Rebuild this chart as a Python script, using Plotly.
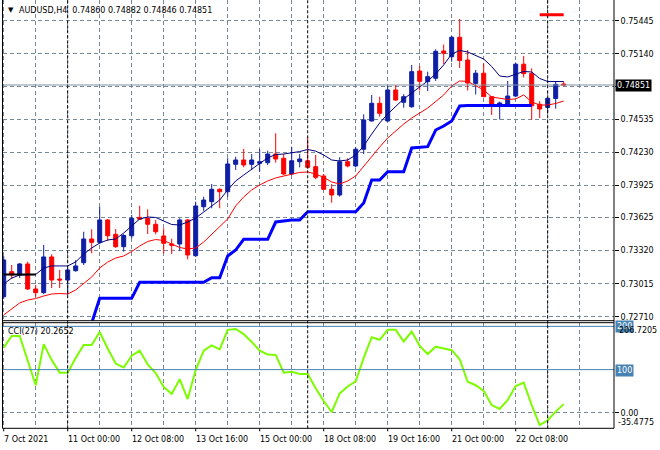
import plotly.graph_objects as go

# ---------------- data ----------------
# H4 bars, first visible bar = 7 Oct 2021 16:00, bar 8 = 11 Oct 00:00
opens = [0.72895, 0.73126, 0.73095, 0.73197, 0.72966, 0.72932, 0.73262, 0.73058,
         0.73049, 0.73135, 0.73209, 0.73428, 0.73397, 0.73604, 0.73471, 0.73357,
         0.73458, 0.73628, 0.73619, 0.73564, 0.73456, 0.73382, 0.73382, 0.73604,
         0.73274, 0.73726, 0.73773, 0.73887, 0.73865, 0.74118, 0.74158, 0.74118,
         0.74127, 0.74133, 0.74213, 0.74174, 0.74029, 0.74142, 0.74151, 0.74096,
         0.74010, 0.73887, 0.73835, 0.74142, 0.74103, 0.74257, 0.74518, 0.74682,
         0.74518, 0.74805, 0.74691, 0.74650, 0.74980, 0.74882, 0.74913, 0.75165,
         0.75112, 0.75292, 0.75082, 0.74866, 0.74960, 0.74743, 0.74659, 0.74675,
         0.74749, 0.75043, 0.74958, 0.74673, 0.74644, 0.74726, 0.74860]
highs = [0.73271, 0.73188, 0.73206, 0.73218, 0.73003, 0.73373, 0.73287, 0.73142,
         0.73160, 0.73234, 0.73495, 0.73518, 0.73726, 0.73613, 0.73520, 0.73474,
         0.73650, 0.73735, 0.73702, 0.73604, 0.73527, 0.73431, 0.73619, 0.73613,
         0.73773, 0.73819, 0.73936, 0.73896, 0.74174, 0.74188, 0.74260, 0.74213,
         0.74257, 0.74244, 0.74405, 0.74213, 0.74281, 0.74213, 0.74368, 0.74204,
         0.74029, 0.73936, 0.74183, 0.74174, 0.74278, 0.74580, 0.74759, 0.74743,
         0.74842, 0.74851, 0.74766, 0.75036, 0.75026, 0.74974, 0.75181, 0.75225,
         0.75304, 0.75461, 0.75174, 0.74990, 0.75051, 0.74749, 0.74698, 0.74888,
         0.75059, 0.75119, 0.75005, 0.74703, 0.74735, 0.74883, 0.74882]
lows = [0.72874, 0.73058, 0.73068, 0.72957, 0.72895, 0.72920, 0.72975, 0.72975,
        0.72911, 0.73126, 0.73188, 0.73296, 0.73382, 0.73409, 0.73345, 0.73312,
        0.73434, 0.73604, 0.73474, 0.73471, 0.73296, 0.73289, 0.73320, 0.73240,
        0.73262, 0.73689, 0.73712, 0.73712, 0.73819, 0.74066, 0.74090, 0.74066,
        0.74050, 0.74112, 0.74133, 0.74019, 0.74019, 0.74090, 0.74075, 0.73980,
        0.73881, 0.73763, 0.73819, 0.74090, 0.74090, 0.74213, 0.74514, 0.74558,
        0.74514, 0.74703, 0.74641, 0.74641, 0.74800, 0.74795, 0.74888, 0.75045,
        0.75066, 0.75008, 0.74800, 0.74763, 0.74740, 0.74574, 0.74532, 0.74666,
        0.74740, 0.74920, 0.74530, 0.74546, 0.74599, 0.74632, 0.74846]
closes = [0.73234, 0.73095, 0.73197, 0.72966, 0.72932, 0.73262, 0.73049, 0.73049,
          0.73142, 0.73179, 0.73428, 0.73397, 0.73604, 0.73458, 0.73357, 0.73460,
          0.73619, 0.73610, 0.73564, 0.73495, 0.73388, 0.73370, 0.73604, 0.73280,
          0.73733, 0.73788, 0.73887, 0.73865, 0.74121, 0.74158, 0.74112, 0.74158,
          0.74142, 0.74213, 0.74167, 0.74029, 0.74151, 0.74167, 0.74090, 0.73998,
          0.73887, 0.73835, 0.74142, 0.74103, 0.74257, 0.74528, 0.74682, 0.74589,
          0.74805, 0.74712, 0.74743, 0.74974, 0.74885, 0.74928, 0.75162, 0.75144,
          0.75292, 0.75077, 0.74869, 0.74960, 0.74743, 0.74663, 0.74685, 0.74749,
          0.75043, 0.74956, 0.74659, 0.74629, 0.74728, 0.74857, 0.74851]

ma_fast = [0.73012, 0.73067, 0.73095, 0.73100, 0.73100, 0.73160, 0.73179, 0.73179,
           0.73179, 0.73216, 0.73289, 0.73345, 0.73391, 0.73419, 0.73428, 0.73483,
           0.73548, 0.73613, 0.73631, 0.73627, 0.73594, 0.73562, 0.73557, 0.73585,
           0.73622, 0.73677, 0.73733, 0.73788, 0.73881, 0.73964, 0.74019, 0.74075,
           0.74126, 0.74177, 0.74209, 0.74213, 0.74222, 0.74236, 0.74255, 0.74240,
           0.74204, 0.74158, 0.74149, 0.74158, 0.74204, 0.74287, 0.74398, 0.74500,
           0.74583, 0.74657, 0.74722, 0.74777, 0.74833, 0.74888, 0.74953, 0.75036,
           0.75137, 0.75170, 0.75156, 0.75124, 0.75091, 0.75022, 0.74934, 0.74925,
           0.74953, 0.74976, 0.74971, 0.74911, 0.74883, 0.74883, 0.74883]
ma_slow = [0.72726, 0.72781, 0.72837, 0.72864, 0.72878, 0.72901, 0.72920, 0.72924,
           0.72920, 0.72957, 0.73021, 0.73077, 0.73160, 0.73215, 0.73252, 0.73271,
           0.73312, 0.73363, 0.73405, 0.73423, 0.73414, 0.73382, 0.73349, 0.73336,
           0.73345, 0.73400, 0.73474, 0.73539, 0.73613, 0.73733, 0.73816, 0.73881,
           0.73927, 0.73964, 0.73992, 0.74010, 0.74029, 0.74043, 0.74047, 0.74029,
           0.73997, 0.73955, 0.73936, 0.73964, 0.74010, 0.74102, 0.74195, 0.74278,
           0.74361, 0.74426, 0.74490, 0.74546, 0.74592, 0.74638, 0.74698, 0.74759,
           0.74842, 0.74888, 0.74884, 0.74847, 0.74805, 0.74740, 0.74726, 0.74717,
           0.74722, 0.74759, 0.74694, 0.74666, 0.74666, 0.74680, 0.74703]
trail_stop = [None, None, None, None, None, None, None, None, None, None, None,
              0.72652, 0.72880, 0.72880, 0.72880, 0.72880, 0.72880,
              0.73028, 0.73028, 0.73028, 0.73028, 0.73028, 0.73028, 0.73028, 0.73028, 0.73028,
              0.73070, 0.73070, 0.73271, 0.73326, 0.73425, 0.73425, 0.73425, 0.73425,
              0.73585, 0.73594, 0.73604, 0.73604,
              0.73680, 0.73680, 0.73680, 0.73680, 0.73680, 0.73680, 0.73680,
              0.73760, 0.73973, 0.73973, 0.74050, 0.74050, 0.74050,
              0.74269, 0.74278, 0.74281, 0.74435, 0.74472, 0.74518, 0.74657,
              0.74662, 0.74662, 0.74662, 0.74662, 0.74662, 0.74662, 0.74662, 0.74662, 0.74662,
              None, None, None, None]
top_marker = [None] * 67 + [0.75500, 0.75500, 0.75500, 0.75500]
start_marker = [0.73100, 0.73100, 0.73100, 0.73100, 0.73100] + [None] * 66

cci = [151, 178, 178, 120, 64, 159, 122, 93, 93, 127, 157, 157, 187, 149, 114, 105,
       132, 144, 112, 92, 60, 44, 78, 32, 99, 144, 156, 147, 192, 194, 182, 164,
       144, 135, 134, 93, 95, 90, 90, 57, 27.5, 2, 45, 61, 73, 127, 175, 169,
       192, 192, 165, 188, 155, 136, 153, 149, 145, 124, 72, 64, 51, 18, 9, 30,
       62, 70, 18, -28, -17, 3, 20.2652]
cci_levels = [100, 200]
cci_max_label = "206.7205"
cci_min_label = "-35.4775"

price_ticks = [0.75445, 0.75140, 0.74840, 0.74535, 0.74230, 0.73925,
               0.73625, 0.73320, 0.73015, 0.72710]
price_tick_text = ["0.75445", "0.75140", "", "0.74535", "0.74230", "0.73925",
                   "0.73625", "0.73320", "0.73015", "0.72710"]

time_label_bars = [0, 8, 16, 24, 32, 40, 48, 56, 64]
time_labels = ["7 Oct 2021", "11 Oct 00:00", "12 Oct 08:00", "13 Oct 16:00",
               "15 Oct 00:00", "18 Oct 08:00", "19 Oct 16:00", "21 Oct 00:00",
               "22 Oct 08:00"]
grid_bars = list(range(0, 76, 4))
week_separators = [8, 38, 68]

x = list(range(len(opens)))

# ---------------- layout geometry (pixels) ----------------
W, H = 660, 450
LEFT, RIGHT = 2.5, 614.0
MAIN_TOP, MAIN_BOT = 0.0, 320.7
CCI_TOP, CCI_BOT = 322.7, 428.3


def fx(px):
    return px / W


def fy(py):
    return 1 - py / H


FONT = "DejaVu Sans"
FS = 8
BULL = "#0F1FA5"
BEAR = "#FF0000"
GRID = "#778899"
LEVEL = "#4682B4"

fig = go.Figure()

fig.add_trace(go.Candlestick(
    x=x, open=opens, high=highs, low=lows, close=closes,
    increasing=dict(line=dict(color=BULL, width=1), fillcolor=BULL),
    decreasing=dict(line=dict(color=BEAR, width=1), fillcolor=BEAR),
    whiskerwidth=0, showlegend=False, hoverinfo="skip",
    xaxis="x", yaxis="y"))

fig.add_trace(go.Scatter(x=x, y=trail_stop, mode="lines",
                         line=dict(color="#0000FF", width=3),
                         showlegend=False, hoverinfo="skip", xaxis="x", yaxis="y"))
fig.add_trace(go.Scatter(x=x, y=ma_slow, mode="lines",
                         line=dict(color="#FF0000", width=1),
                         showlegend=False, hoverinfo="skip", xaxis="x", yaxis="y"))
fig.add_trace(go.Scatter(x=x, y=ma_fast, mode="lines",
                         line=dict(color="#000080", width=1),
                         showlegend=False, hoverinfo="skip", xaxis="x", yaxis="y"))
fig.add_trace(go.Scatter(x=x, y=start_marker, mode="lines",
                         line=dict(color="#000000", width=2),
                         showlegend=False, hoverinfo="skip", xaxis="x", yaxis="y"))
fig.add_trace(go.Scatter(x=x, y=top_marker, mode="lines",
                         line=dict(color="#FF0000", width=3),
                         showlegend=False, hoverinfo="skip", xaxis="x", yaxis="y"))

fig.add_trace(go.Scatter(x=x, y=cci, mode="lines",
                         line=dict(color="#7CFC00", width=2),
                         showlegend=False, hoverinfo="skip", xaxis="x2", yaxis="y2"))

xrange = [(LEFT - 3.7) / 8, (RIGHT - 3.7) / 8]
p_per_px = (price_ticks[0] - price_ticks[-1]) / (316.7 - 20.7)
y_top = price_ticks[0] + (20.7 - MAIN_TOP) * p_per_px
y_bot = price_ticks[-1] - (MAIN_BOT - 316.7) * p_per_px
cci_per_px = 1 / 0.4327
cci_top = (412.9 - CCI_TOP) * cci_per_px
cci_bot = -(CCI_BOT - 412.9) * cci_per_px

gridstyle = dict(showgrid=True, gridcolor=GRID, gridwidth=1, griddash="4px,3px")

fig.update_layout(
    width=W, height=H, margin=dict(l=0, r=0, t=0, b=0),
    paper_bgcolor="white", plot_bgcolor="white",
    boxgap=0.5, boxgroupgap=0,
    font=dict(family=FONT, size=FS, color="black"),
    xaxis=dict(domain=[fx(LEFT), fx(RIGHT)], range=xrange, anchor="y",
               tickmode="array", tickvals=grid_bars, showticklabels=False,
               ticks="", zeroline=False, showline=False,
               rangeslider=dict(visible=False), **gridstyle),
    xaxis2=dict(domain=[fx(LEFT), fx(RIGHT)], range=xrange, anchor="y2",
                matches="x", tickmode="array", tickvals=grid_bars,
                showticklabels=False, ticks="", zeroline=False, showline=False,
                **gridstyle),
    yaxis=dict(domain=[fy(MAIN_BOT), fy(MAIN_TOP)], range=[y_bot, y_top],
               side="right", anchor="x", tickmode="array", tickvals=price_ticks,
               ticktext=price_tick_text, ticks="outside", ticklen=4,
               tickcolor="black", tickfont=dict(family=FONT, size=FS, color="black"),
               zeroline=False, showline=False, **gridstyle),
    yaxis2=dict(domain=[fy(CCI_BOT), fy(CCI_TOP)], range=[cci_bot, cci_top],
                side="right", anchor="x2", tickmode="array", tickvals=[0],
                ticktext=["0.00"], ticks="outside", ticklen=4, tickcolor="black",
                tickfont=dict(family=FONT, size=FS, color="black"),
                zeroline=False, showline=False, **gridstyle),
)

shapes = []
# CCI levels
for lv in cci_levels:
    shapes.append(dict(type="line", xref="paper", yref="y2", x0=fx(LEFT), x1=fx(RIGHT),
                       y0=lv, y1=lv, line=dict(color=LEVEL, width=1)))
# bid line
shapes.append(dict(type="line", xref="paper", yref="y", x0=fx(LEFT), x1=fx(RIGHT),
                   y0=closes[-1], y1=closes[-1], line=dict(color="#8090A0", width=1)))
# weekly separators
for b in week_separators:
    shapes.append(dict(type="line", xref="x", yref="paper", x0=b, x1=b,
                       y0=fy(CCI_BOT), y1=fy(MAIN_TOP),
                       line=dict(color="black", width=1, dash="3px,2px")))
# pane borders
for yy in [MAIN_BOT, CCI_TOP, CCI_BOT]:
    shapes.append(dict(type="line", xref="paper", yref="paper", x0=fx(LEFT), x1=fx(RIGHT),
                       y0=fy(yy), y1=fy(yy), line=dict(color="black", width=1)))
for xx in [LEFT, RIGHT]:
    shapes.append(dict(type="line", xref="paper", yref="paper", x0=fx(xx), x1=fx(xx),
                       y0=fy(CCI_BOT), y1=fy(MAIN_TOP), line=dict(color="black", width=1)))
# small time ticks under CCI pane
for b in time_label_bars:
    shapes.append(dict(type="line", xref="x2", yref="paper", x0=b, x1=b,
                       y0=fy(CCI_BOT), y1=fy(CCI_BOT + 3), line=dict(color="black", width=1)))
fig.update_layout(shapes=shapes)

ann = []


def text(px, py, s, color="black", bg=None, anchor="left", size=FS):
    d = dict(xref="paper", yref="paper", x=fx(px), y=fy(py), text=s, showarrow=False,
             xanchor=anchor, yanchor="middle",
             font=dict(family=FONT, size=size, color=color), borderpad=1)
    if bg:
        d["bgcolor"] = bg
    ann.append(d)


text(6, 10.5, "▼", size=7)
text(17, 10.5, "AUDUSD,H4  %.5f %.5f %.5f %.5f" % (opens[-1], highs[-1], lows[-1], closes[-1]))
text(5.5, 331, "CCI(27) %.4f" % cci[-1])
text(615, 85.3, "%.5f" % closes[-1], color="white", bg="black")
text(615, 326.5, "%d" % cci_levels[1], color="white", bg=LEVEL)
text(617, 330.5, cci_max_label)
text(615, 370.7, "%d" % cci_levels[0], color="white", bg=LEVEL)
text(616, 422.5, cci_min_label)

for b, s in zip(time_label_bars, time_labels):
    ann.append(dict(xref="x2", yref="paper", x=b, y=fy(439), text=s, showarrow=False,
                    xanchor="left", yanchor="middle", xshift=-2,
                    font=dict(family=FONT, size=FS, color="black")))

fig.update_layout(annotations=ann)

fig.write_html(
    "out.html",
    config={"displayModeBar": False},
    post_script="document.body.style.margin='0';document.body.style.overflow='hidden';",
)
